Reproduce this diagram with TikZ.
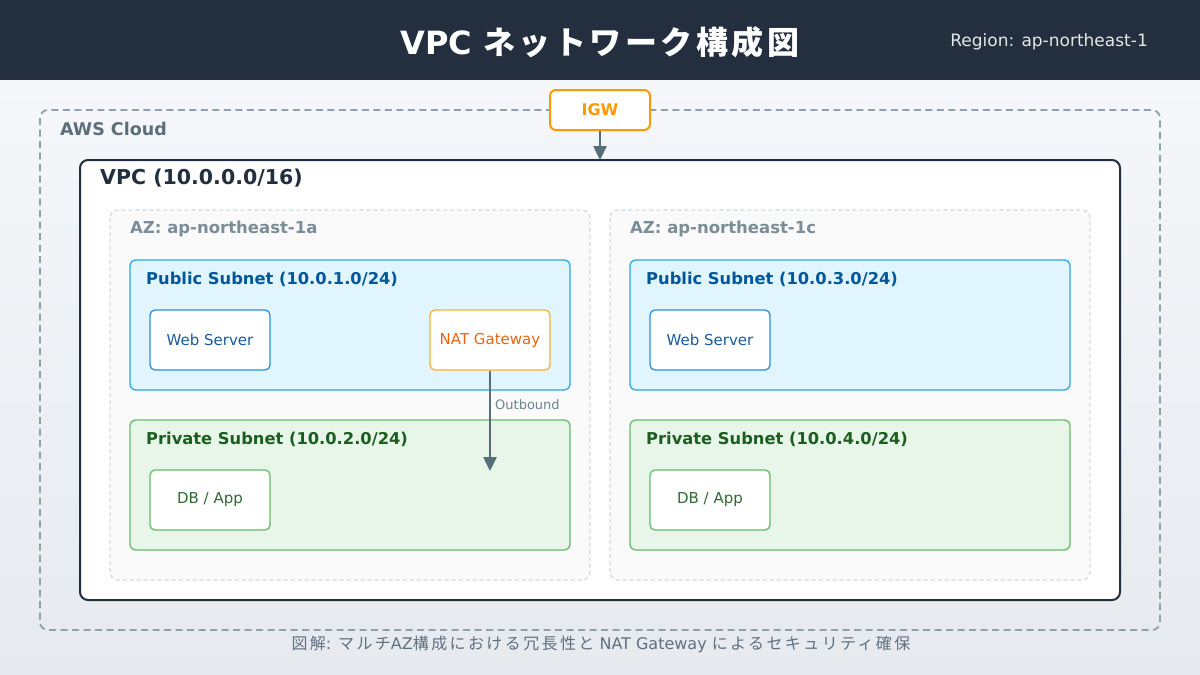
\documentclass[tikz,border=0pt]{standalone}
\usepackage{fontspec}
\setmainfont{DejaVu Sans}
\newfontfamily\jp{Noto Sans CJK JP}
\newfontfamily\jpw[LetterSpace=15]{Noto Sans CJK JP}
\newfontfamily\jpt[LetterSpace=11]{Noto Sans CJK JP}
\usetikzlibrary{arrows.meta}
\definecolor{hdr}{HTML}{232F3E}
\definecolor{bgA}{HTML}{F5F7FA}
\definecolor{bgB}{HTML}{E6EAEE}
\definecolor{cloudc}{HTML}{8FA1AB}
\definecolor{cloudt}{HTML}{5B6E7A}
\definecolor{igw}{HTML}{FF9900}
\definecolor{arr}{HTML}{546E7A}
\definecolor{azs}{HTML}{D5D9DC}
\definecolor{azf}{HTML}{FAFAFA}
\definecolor{azt}{HTML}{7A8D98}
\definecolor{pubf}{HTML}{E1F5FE}
\definecolor{pubs}{HTML}{29A9E6}
\definecolor{pubt}{HTML}{01579B}
\definecolor{webs}{HTML}{2B8FE0}
\definecolor{webt}{HTML}{1A5A9C}
\definecolor{nats}{HTML}{FFAD33}
\definecolor{natt}{HTML}{E8650F}
\definecolor{prif}{HTML}{E8F5E9}
\definecolor{pris}{HTML}{66BB6A}
\definecolor{prit}{HTML}{1B5E20}
\definecolor{dbt}{HTML}{2E6B32}
\definecolor{capt}{HTML}{607080}
\tikzset{
  cloudbox/.style={draw=cloudc, line width=1.8pt, dash pattern=on 7pt off 4.5pt, rounded corners=8pt},
  vpcbox/.style={draw=hdr, fill=white, line width=2pt, rounded corners=8pt},
  azbox/.style={draw=azs, fill=azf, line width=1.3pt, dash pattern=on 4pt off 3pt, rounded corners=8pt},
  pubbox/.style={draw=pubs, fill=pubf, line width=1.3pt, rounded corners=6pt},
  pribox/.style={draw=pris, fill=prif, line width=1.3pt, rounded corners=6pt},
  srv/.style={fill=white, line width=1.3pt, rounded corners=5pt, minimum width=120pt, minimum height=60pt, inner sep=0pt, font=\fontsize{15}{17}\selectfont},
  websrv/.style={srv, draw=webs, text=webt},
  natsrv/.style={srv, draw=nats, text=natt},
  dbsrv/.style={srv, draw=pris, text=dbt},
  lbl/.style={anchor=west, inner sep=0pt},
  sublabel/.style={lbl, font=\bfseries\fontsize{16.3}{18}\selectfont},
  azlabel/.style={lbl, text=azt, font=\bfseries\fontsize{16.5}{18}\selectfont},
  conn/.style={draw=arr, line width=2.5pt, -{Triangle[width=13pt,length=14pt]}},
}
\begin{document}
\begin{tikzpicture}[x=1pt,y=-1pt]
\useasboundingbox (0,0) rectangle (1200,675);
% background
\shade[top color=bgA, bottom color=bgB] (0,80) rectangle (1200,675);
\fill[hdr] (0,0) rectangle (1200,80);
\node[text=white, inner sep=0pt, font=\bfseries\fontsize{32}{38}\selectfont] (title) at (600,42) {VPC {\jpt ネットワーク構成図}};
\node[anchor=east, inner sep=0pt, text=white!88!hdr, font=\fontsize{17}{19}\selectfont] (region) at (1148,42) {Region: ap-northeast-1};
% AWS cloud
\draw[cloudbox] (40,110) rectangle (1160,630);
\node[lbl, text=cloudt, font=\bfseries\fontsize{17.5}{20}\selectfont] (cloudlbl) at (60,129) {AWS Cloud};
% IGW
\node[draw=igw, fill=white, line width=2pt, rounded corners=6pt, minimum width=100pt, minimum height=40pt, inner sep=0pt, text=igw, font=\bfseries\fontsize{16}{18}\selectfont] (igw) at (600,110) {IGW};
% VPC
\draw[vpcbox] (80,160) rectangle (1120,600);
\coordinate (vpctop) at (600,160);
\node[lbl, text=hdr, font=\bfseries\fontsize{20.5}{24}\selectfont] (vpclbl) at (100,178) {VPC (10.0.0.0/16)};
\draw[conn] (igw.south) -- (vpctop);
% AZ a
\draw[azbox] (110,210) rectangle (590,580);
\node[azlabel] (aza) at (130,229) {AZ: ap-northeast-1a};
\draw[pubbox] (130,260) rectangle (570,390);
\node[sublabel, text=pubt] (puba) at (146,279) {Public Subnet (10.0.1.0/24)};
\node[websrv] (weba) at (210,340) {Web Server};
\node[natsrv] (nat) at (490,340) {NAT Gateway};
\draw[pribox] (130,420) rectangle (570,550);
\node[sublabel, text=prit] (pria) at (146,439) {Private Subnet (10.0.2.0/24)};
\node[dbsrv] (dba) at (210,500) {DB / App};
\coordinate (natend) at (490,471);
\draw[conn] (nat.south) -- (natend);
\node[lbl, text=arr!85!white, font=\fontsize{13}{15}\selectfont] (outb) at (495,405) {Outbound};
% AZ c
\draw[azbox] (610,210) rectangle (1090,580);
\node[azlabel] (azc) at (630,229) {AZ: ap-northeast-1c};
\draw[pubbox] (630,260) rectangle (1070,390);
\node[sublabel, text=pubt] (pubc) at (646,279) {Public Subnet (10.0.3.0/24)};
\node[websrv] (webc) at (710,340) {Web Server};
\draw[pribox] (630,420) rectangle (1070,550);
\node[sublabel, text=prit] (pric) at (646,439) {Private Subnet (10.0.4.0/24)};
\node[dbsrv] (dbc) at (710,500) {DB / App};
% caption
\node[text=capt, inner sep=0pt, font=\fontsize{16}{18}\selectfont] (cap) at (601,644) {{\jpw 図解}: {\jpw マルチ}AZ{\jpw 構成における冗長性と} NAT Gateway {\jpw によるセキュリティ確保}};
\end{tikzpicture}
\end{document}
